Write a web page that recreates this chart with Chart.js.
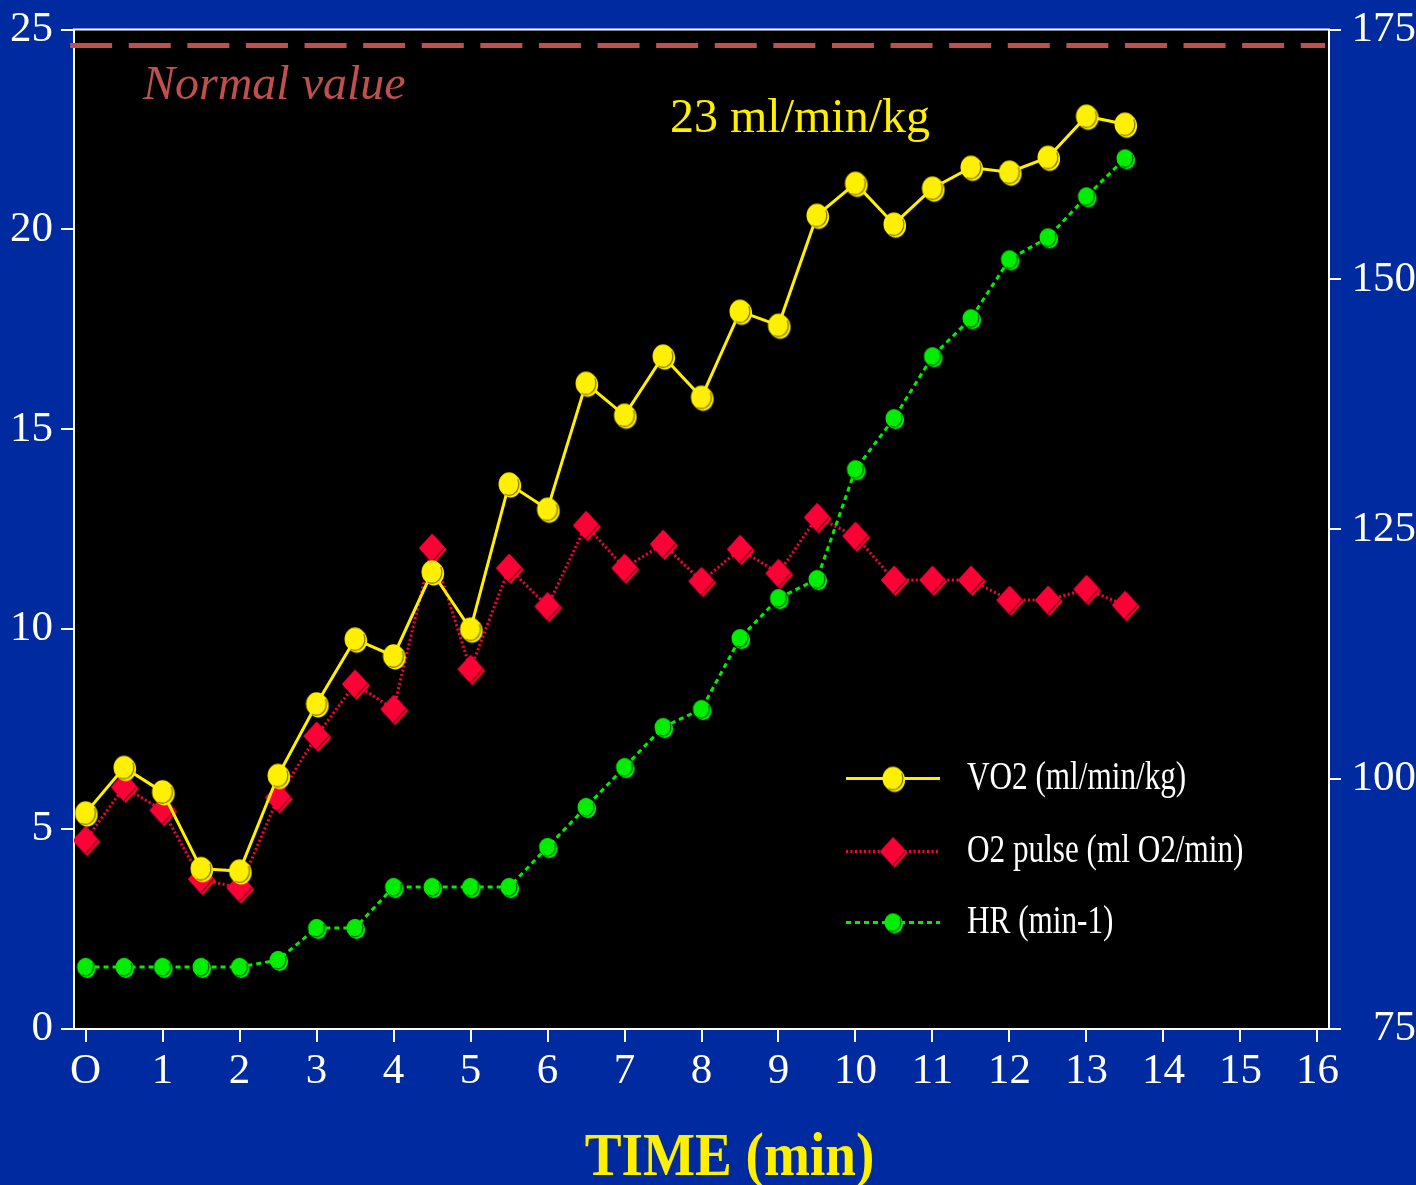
<!DOCTYPE html>
<html>
<head>
<meta charset="utf-8">
<script src="https://cdn.jsdelivr.net/npm/chart.js@4.4.1/dist/chart.umd.min.js"></script>
<style>
  html, body { margin: 0; padding: 0; background: #002a9f; }
  canvas { display: block; }
</style>
</head>
<body>
<canvas id="c" width="1416" height="1185"></canvas>
<script>
// Exercise test: time course of VO2, O2 pulse and heart rate
const minutes   = [0, 0.5, 1, 1.5, 2, 2.5, 3, 3.5, 4, 4.5, 5, 5.5, 6, 6.5, 7, 7.5, 8, 8.5, 9, 9.5, 10, 10.5, 11, 11.5, 12, 12.5, 13, 13.5];
const vo2       = [5.4, 6.54, 5.93, 4.01, 3.95, 6.34, 8.13, 9.75, 9.33, 11.43, 10.0, 13.63, 13.0, 16.15, 15.35, 16.83, 15.8, 17.95, 17.6, 20.35, 21.15, 20.13, 21.03, 21.55, 21.43, 21.8, 22.83, 22.63];
const o2Pulse   = [4.72, 6.05, 5.47, 3.75, 3.53, 5.79, 7.33, 8.63, 8.0, 12.03, 9.0, 11.53, 10.57, 12.6, 11.53, 12.13, 11.2, 12.0, 11.4, 12.8, 12.33, 11.23, 11.23, 11.23, 10.73, 10.73, 11.0, 10.6];
const heartRate = [81.2, 81.2, 81.2, 81.2, 81.2, 81.9, 85.1, 85.1, 89.2, 89.2, 89.2, 89.2, 93.2, 97.2, 101.2, 105.2, 107.0, 114.1, 118.1, 120.0, 131.0, 136.1, 142.3, 146.1, 152.0, 154.2, 158.3, 162.1];
const normalVo2 = 24.6;

const xTickValues     = [0, 1, 2, 3, 4, 5, 6, 7, 8, 9, 10, 11, 12, 13, 14, 15, 16];
const xTickLabels     = ['O', '1', '2', '3', '4', '5', '6', '7', '8', '9', '10', '11', '12', '13', '14', '15', '16'];
const leftTickValues  = [0, 5, 10, 15, 20, 25];
const rightTickValues = [75, 100, 125, 150, 175];

const seriesNames = ['VO2 (ml/min/kg)', 'O2 pulse (ml O2/min)', 'HR (min-1)'];

const BLUE = '#002a9f';
const YELLOW = '#fff000';
const RED = '#ff0036';
const GREEN = '#00ee00';
const BROWN_RED = '#c0504d';
const SERIF = '"Liberation Serif", "Times New Roman", serif';

// Small bevelled marker sprites (ellipse / diamond) used as point styles
function makeMarker(shape, rx, ry, fill, edge) {
  const hw = Math.ceil(rx + 4), hh = Math.ceil(ry + 4);
  const cv = document.createElement('canvas');
  cv.width = hw * 2;
  cv.height = hh * 2;
  const g = cv.getContext('2d');
  const path = (cx, cy) => {
    g.beginPath();
    if (shape === 'circle') {
      g.ellipse(cx, cy, rx, ry, 0, 0, Math.PI * 2);
    } else {
      g.moveTo(cx, cy - ry); g.lineTo(cx + rx, cy); g.lineTo(cx, cy + ry); g.lineTo(cx - rx, cy); g.closePath();
    }
  };
  g.fillStyle = fill;
  path(hw + 1.6, hh + 1.6); g.fill();
  path(hw, hh); g.fill();
  g.strokeStyle = edge; g.lineWidth = 1.3;
  g.beginPath();
  if (shape === 'circle') {
    g.ellipse(hw, hh, rx - 0.6, ry - 0.6, 0, -0.15 * Math.PI, 0.65 * Math.PI);
  } else {
    g.moveTo(hw + rx - 1, hh); g.lineTo(hw, hh + ry - 1);
  }
  g.stroke();
  return cv;
}

const yellowDot = makeMarker('circle', 10.5, 11.8, YELLOW, '#8a7d00');
const redDiamond = makeMarker('diamond', 13.2, 14.5, RED, '#7a0020');
const greenDot = makeMarker('circle', 8.5, 9.3, GREEN, '#006a00');

const pts = (vals) => minutes.map((t, i) => ({ x: t, y: vals[i] }));

const datasets = [
  {
    label: seriesNames[0], data: pts(vo2), yAxisID: 'y',
    borderColor: YELLOW, backgroundColor: YELLOW, borderWidth: 3,
    pointStyle: yellowDot, pointRadius: 11, order: 1
  },
  {
    label: seriesNames[1], data: pts(o2Pulse), yAxisID: 'y',
    borderColor: RED, backgroundColor: RED, borderWidth: 3, borderDash: [2, 2.5],
    pointStyle: redDiamond, pointRadius: 14, order: 3
  },
  {
    label: seriesNames[2], data: pts(heartRate), yAxisID: 'y2',
    borderColor: GREEN, backgroundColor: GREEN, borderWidth: 3, borderDash: [5, 4],
    pointStyle: greenDot, pointRadius: 9, order: 2
  },
  {
    label: 'Normal value', data: [{ x: -0.2, y: normalVo2 }, { x: 16.1, y: normalVo2 }], yAxisID: 'y',
    borderColor: BROWN_RED, borderWidth: 5, borderDash: [42, 16.6],
    pointRadius: 0, clip: false, order: 4
  }
];

// Background: blue frame, black plotting area, top border line
const backdrop = {
  id: 'backdrop',
  beforeDraw(chart) {
    const { ctx, chartArea: a } = chart;
    ctx.save();
    ctx.fillStyle = BLUE;
    ctx.fillRect(0, 0, chart.width, chart.height);
    ctx.fillStyle = '#000';
    ctx.fillRect(a.left, a.top, a.right - a.left, a.bottom - a.top);
    ctx.restore();
  },
  afterDraw(chart) {
    const { ctx, chartArea: a } = chart;
    ctx.save();
    ctx.strokeStyle = '#ffffff';
    ctx.lineWidth = 2;
    ctx.beginPath();
    ctx.moveTo(a.left - 1, a.top);
    ctx.lineTo(a.right + 1, a.top);
    ctx.stroke();
    ctx.restore();
  }
};

// Inline labels, legend and axis title
const decorations = {
  id: 'decorations',
  afterDatasetsDraw(chart) {
    const { ctx, chartArea: a } = chart;
    ctx.save();

    ctx.textBaseline = 'alphabetic';
    ctx.textAlign = 'left';
    ctx.fillStyle = BROWN_RED;
    ctx.font = 'italic 48px ' + SERIF;
    ctx.fillText('Normal value', a.left + 69, a.top + 69);

    ctx.fillStyle = YELLOW;
    ctx.font = '48px ' + SERIF;
    ctx.fillText('23 ml/min/kg', a.left + 596, a.top + 102);

    // legend
    const rows = [a.top + 749, a.top + 822, a.top + 893];
    const x0 = a.left + 772, x1 = a.left + 866, xm = (x0 + x1) / 2;
    [0, 1, 2].forEach((k) => {
      const ds = chart.data.datasets[k];
      const y = rows[k];
      ctx.save();
      ctx.strokeStyle = ds.borderColor;
      ctx.lineWidth = ds.borderWidth;
      ctx.setLineDash(ds.borderDash || []);
      ctx.beginPath();
      ctx.moveTo(x0, y);
      ctx.lineTo(x1, y);
      ctx.stroke();
      ctx.restore();
      Chart.helpers.drawPoint(ctx, { pointStyle: ds.pointStyle, radius: ds.pointRadius, rotation: 0, borderWidth: 0 }, xm, y);

      ctx.save();
      ctx.fillStyle = '#ffffff';
      ctx.font = '40px ' + SERIF;
      ctx.textBaseline = 'middle';
      ctx.translate(a.left + 893, y);
      ctx.scale(0.78, 1);
      ctx.fillText(ds.label, 0, 0);
      ctx.restore();
    });

    // axis title
    ctx.save();
    ctx.fillStyle = YELLOW;
    ctx.font = 'bold 62px ' + SERIF;
    ctx.textAlign = 'center';
    ctx.textBaseline = 'alphabetic';
    ctx.translate((a.left + a.right) / 2 + 28, a.bottom + 146);
    ctx.scale(0.89, 1);
    ctx.fillText('TIME (min)', 0, 0);
    ctx.restore();

    ctx.restore();
  }
};

const tickFont = { family: SERIF, size: 43, lineHeight: 1 };
const axisGrid = (len) => ({
  display: true, drawOnChartArea: false, drawTicks: true,
  tickLength: len, color: '#ffffff', lineWidth: 2
});

new Chart(document.getElementById('c'), {
  type: 'line',
  data: { datasets },
  plugins: [backdrop, decorations],
  options: {
    responsive: false,
    animation: false,
    events: [],
    layout: { padding: { top: 29, left: 0, right: 0, bottom: 0 } },
    plugins: { legend: { display: false }, tooltip: { enabled: false }, title: { display: false } },
    scales: {
      x: {
        type: 'linear', position: 'bottom', min: -0.15, max: 16.15,
        border: { color: '#ffffff', width: 2 },
        grid: axisGrid(13),
        afterBuildTicks: (s) => { s.ticks = xTickValues.map((v) => ({ value: v })); },
        afterFit: (s) => { s.height = 156; },
        ticks: {
          color: '#ffffff', font: tickFont, padding: 8, maxRotation: 0, autoSkip: false,
          callback: (v) => xTickLabels[xTickValues.indexOf(v)]
        }
      },
      y: {
        type: 'linear', position: 'left', min: 0, max: 25,
        border: { color: '#ffffff', width: 2 },
        grid: axisGrid(13),
        afterBuildTicks: (s) => { s.ticks = leftTickValues.map((v) => ({ value: v })); },
        afterFit: (s) => { s.width = 74; },
        ticks: { color: '#ffffff', font: tickFont, padding: 8, autoSkip: false }
      },
      y2: {
        type: 'linear', position: 'right', min: 75, max: 175,
        border: { color: '#ffffff', width: 2 },
        grid: axisGrid(12),
        afterBuildTicks: (s) => { s.ticks = rightTickValues.map((v) => ({ value: v })); },
        afterFit: (s) => { s.width = 87; },
        ticks: { color: '#ffffff', font: tickFont, padding: 2, crossAlign: 'far', autoSkip: false }
      }
    }
  }
});
</script>
</body>
</html>
